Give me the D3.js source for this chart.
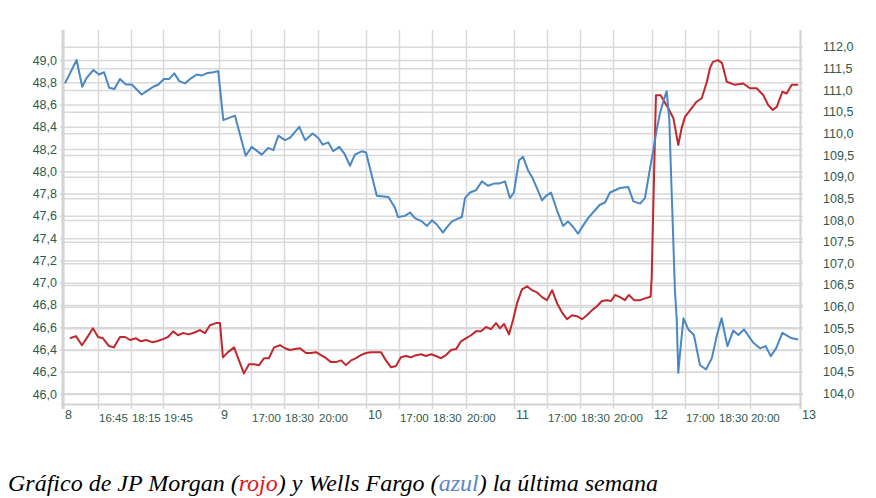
<!DOCTYPE html>
<html><head><meta charset="utf-8">
<script src="https://cdn.jsdelivr.net/npm/d3@7"></script>
<style>
html,body{margin:0;padding:0;background:#fff;}
svg{display:block;}
</style></head>
<body>
<svg id="chart" width="876" height="498"></svg>
<script>
// ---- data (x = trading hours since start of the week, day 8) ----
const leftTicks = [46.0,46.2,46.4,46.6,46.8,47.0,47.2,47.4,47.6,47.8,48.0,48.2,48.4,48.6,48.8,49.0];
const rightTicks = [104.0,104.5,105.0,105.5,106.0,106.5,107.0,107.5,108.0,108.5,109.0,109.5,110.0,110.5,111.0,111.5,112.0];
const xTickValues = [0,1.57,3.04,4.48,6.98,8.42,9.90,11.42,13.57,15.04,16.52,18.04,20.19,21.67,23.15,24.63,26.37,27.85,29.33,30.76,33];
const xTickLabels = ["8","16:45","18:15","19:45","9","17:00","18:30","20:00","10","17:00","18:30","20:00","11","17:00","18:30","20:00","12","17:00","18:30","20:00","13"];

// Wells Fargo (blue, left axis)
const blueT = [0.09,0.61,0.86,1.06,1.36,1.61,1.84,2.07,2.30,2.55,2.81,3.08,3.52,3.75,4.04,4.27,4.52,4.76,4.98,5.21,5.46,5.76,5.99,6.21,6.43,6.73,6.95,7.18,7.70,8.18,8.45,8.90,9.19,9.42,9.64,9.94,10.16,10.58,10.84,11.18,11.43,11.63,11.88,12.10,12.37,12.60,12.85,13.07,13.37,13.57,14.05,14.57,14.87,15.00,15.31,15.54,15.76,16.07,16.30,16.52,16.75,17.01,17.24,17.42,17.64,17.86,18.00,18.22,18.49,18.76,19.03,19.30,19.52,19.79,20.01,20.19,20.42,20.60,20.82,21.00,21.22,21.45,21.63,21.85,22.12,22.39,22.61,22.84,23.06,23.28,23.51,23.73,24.04,24.27,24.49,24.72,24.94,25.31,25.54,25.84,26.06,26.21,26.43,26.58,26.73,26.88,27.03,27.15,27.21,27.30,27.40,27.48,27.55,27.63,27.78,28.00,28.25,28.52,28.79,29.05,29.27,29.49,29.75,30.01,30.24,30.49,30.91,31.21,31.46,31.69,31.93,32.21,32.63,32.92];
const blueV = [48.79,49.00,48.76,48.84,48.91,48.87,48.89,48.75,48.74,48.83,48.78,48.78,48.69,48.72,48.76,48.78,48.83,48.83,48.88,48.81,48.79,48.84,48.87,48.86,48.88,48.89,48.90,48.46,48.50,48.14,48.22,48.15,48.21,48.19,48.32,48.28,48.30,48.40,48.28,48.34,48.30,48.24,48.26,48.18,48.22,48.16,48.05,48.15,48.18,48.17,47.78,47.77,47.67,47.59,47.60,47.63,47.58,47.55,47.51,47.56,47.52,47.45,47.51,47.55,47.57,47.59,47.76,47.81,47.83,47.91,47.87,47.89,47.89,47.91,47.76,47.81,48.10,48.13,48.01,47.95,47.85,47.74,47.78,47.81,47.65,47.51,47.55,47.50,47.44,47.51,47.58,47.63,47.70,47.72,47.81,47.83,47.85,47.86,47.73,47.71,47.76,47.94,48.19,48.37,48.52,48.63,48.72,48.46,48.07,47.54,46.93,46.67,46.19,46.37,46.68,46.58,46.53,46.26,46.22,46.32,46.52,46.68,46.43,46.57,46.53,46.58,46.46,46.41,46.43,46.34,46.41,46.55,46.50,46.49];

// JP Morgan (red, right axis)
const redT = [0.31,0.58,0.85,1.12,1.34,1.57,1.79,2.06,2.28,2.55,2.78,3.00,3.27,3.49,3.72,3.99,4.21,4.48,4.70,4.93,5.15,5.37,5.64,5.91,6.13,6.36,6.58,6.85,7.03,7.16,7.39,7.66,7.84,8.10,8.33,8.55,8.78,9.00,9.22,9.45,9.72,9.94,10.16,10.39,10.61,10.88,11.10,11.33,11.55,11.78,12.00,12.22,12.45,12.67,12.90,13.12,13.34,13.57,13.79,14.02,14.24,14.46,14.69,14.91,15.13,15.36,15.58,15.81,16.03,16.25,16.48,16.70,16.93,17.15,17.37,17.60,17.82,18.04,18.27,18.49,18.72,18.94,19.16,19.39,19.57,19.75,19.97,20.15,20.33,20.55,20.78,21.00,21.22,21.45,21.67,21.90,22.12,22.34,22.57,22.79,23.01,23.24,23.46,23.69,23.91,24.13,24.36,24.54,24.72,24.94,25.16,25.34,25.57,25.84,26.06,26.31,26.36,26.40,26.46,26.55,26.76,27.10,27.33,27.55,27.70,27.85,28.15,28.37,28.60,28.83,28.97,29.10,29.33,29.51,29.72,30.09,30.46,30.76,31.06,31.36,31.58,31.78,31.96,32.21,32.40,32.63,32.92];
const redV = [105.27,105.32,105.11,105.32,105.50,105.30,105.27,105.09,105.06,105.30,105.30,105.23,105.27,105.20,105.23,105.18,105.20,105.25,105.30,105.43,105.34,105.39,105.36,105.41,105.46,105.39,105.57,105.62,105.62,104.83,104.95,105.06,104.81,104.46,104.67,104.67,104.65,104.81,104.81,105.06,105.11,105.04,105.00,105.02,105.04,104.93,104.93,104.95,104.88,104.81,104.72,104.72,104.76,104.65,104.76,104.81,104.88,104.93,104.95,104.95,104.95,104.76,104.60,104.63,104.83,104.86,104.83,104.88,104.90,104.86,104.90,104.86,104.81,104.88,105.00,105.02,105.20,105.27,105.34,105.43,105.43,105.53,105.48,105.62,105.50,105.60,105.36,105.69,106.08,106.40,106.47,106.38,106.33,106.22,106.15,106.38,106.08,105.87,105.71,105.80,105.78,105.71,105.80,105.92,106.01,106.13,106.15,106.13,106.27,106.22,106.15,106.27,106.15,106.15,106.19,106.23,106.69,107.61,108.92,110.88,110.88,110.58,110.35,109.73,110.12,110.38,110.58,110.73,110.81,111.19,111.51,111.65,111.69,111.62,111.19,111.12,111.15,111.04,111.04,110.88,110.65,110.54,110.61,110.96,110.92,111.12,111.12];

// ---- drawing ----
const svg = d3.select("#chart");
const plotLeft = 63, plotRight = 800, plotTop = 30, plotBottom = 404;
const textColor = "#2f5a4c";
const gridColor = "#d9d9d9";
const fontAxis = "Liberation Sans, Arial, sans-serif";

const x = d3.scaleLinear().domain([0, 33]).range([plotLeft, plotRight]);
const yL = d3.scaleLinear().domain([46.0, 49.0]).range([394, 60]);
const yR = d3.scaleLinear().domain([104, 112]).range([393.3, 46.7]);
const fmt = d => d.toFixed(1).replace(".", ",");

// vertical grid lines
svg.append("g").selectAll("line").data(xTickValues).join("line")
  .attr("x1", d => Math.round(x(d)) + 0.5).attr("x2", d => Math.round(x(d)) + 0.5)
  .attr("y1", plotTop).attr("y2", plotBottom + 5)
  .attr("stroke", gridColor).attr("stroke-width", 1.5);

// left axis with grid
const gL = svg.append("g").attr("transform", `translate(${plotLeft},0)`)
  .call(d3.axisLeft(yL).tickValues(leftTicks).tickFormat(fmt).tickSize(-(plotRight - plotLeft + 3)).tickPadding(6));
gL.select(".domain").remove();
gL.selectAll(".tick line").attr("stroke", gridColor).attr("stroke-width", 1.5).attr("x1", -3);
gL.selectAll(".tick text").attr("fill", textColor).attr("font-size", 12.5).attr("font-family", fontAxis);

// right axis with grid
const gR = svg.append("g").attr("transform", `translate(${plotRight},0)`)
  .call(d3.axisRight(yR).tickValues(rightTicks).tickFormat(fmt).tickSize(-(plotRight - plotLeft + 2)).tickPadding(23));
gR.select(".domain").remove();
gR.selectAll(".tick line").attr("stroke", gridColor).attr("stroke-width", 1.5).attr("x1", 3);
gR.selectAll(".tick text").attr("fill", textColor).attr("font-size", 12.5).attr("font-family", fontAxis);

// frame lines
svg.append("line").attr("x1", plotLeft).attr("x2", plotLeft).attr("y1", plotTop).attr("y2", plotBottom + 5)
  .attr("stroke", "#d4d4d4").attr("stroke-width", 3);
svg.append("line").attr("x1", plotLeft - 2).attr("x2", plotRight + 2).attr("y1", plotBottom + 0.5).attr("y2", plotBottom + 0.5)
  .attr("stroke", "#d4d4d4").attr("stroke-width", 2);
svg.append("line").attr("x1", plotRight + 0.5).attr("x2", plotRight + 0.5).attr("y1", plotTop).attr("y2", plotBottom + 5)
  .attr("stroke", "#d4d4d4").attr("stroke-width", 2);

// x labels
const isDay = l => !l.includes(":");
svg.append("g").selectAll("text").data(xTickValues).join("text")
  .attr("x", (d, i) => x(d) + (isDay(xTickLabels[i]) ? 2 : 1))
  .attr("y", (d, i) => isDay(xTickLabels[i]) ? 419 : 422)
  .attr("fill", textColor).attr("font-size", (d, i) => isDay(xTickLabels[i]) ? 12.5 : 11.5)
  .attr("font-family", fontAxis)
  .text((d, i) => xTickLabels[i]);

// lines
const blue = blueT.map((t, i) => [t, blueV[i]]);
const red = redT.map((t, i) => [t, redV[i]]);
svg.append("path").datum(red)
  .attr("d", d3.line().x(d => x(d[0])).y(d => yR(d[1])))
  .attr("fill", "none").attr("stroke", "#c0282d").attr("stroke-width", 2).attr("stroke-linejoin", "round");
svg.append("path").datum(blue)
  .attr("d", d3.line().x(d => x(d[0])).y(d => yL(d[1])))
  .attr("fill", "none").attr("stroke", "#4a88c4").attr("stroke-width", 2).attr("stroke-linejoin", "round");

// caption
const cap = svg.append("text").attr("x", 8).attr("y", 491)
  .attr("font-family", "Liberation Serif, Times New Roman, serif").attr("font-style", "italic")
  .attr("font-size", 24).attr("fill", "#000");
cap.append("tspan").text("Gráfico de JP Morgan (");
cap.append("tspan").attr("fill", "#e8141c").text("rojo");
cap.append("tspan").text(") y Wells Fargo (");
cap.append("tspan").attr("fill", "#5b86c5").text("azul");
cap.append("tspan").text(") la última semana");
</script>
</body></html>
